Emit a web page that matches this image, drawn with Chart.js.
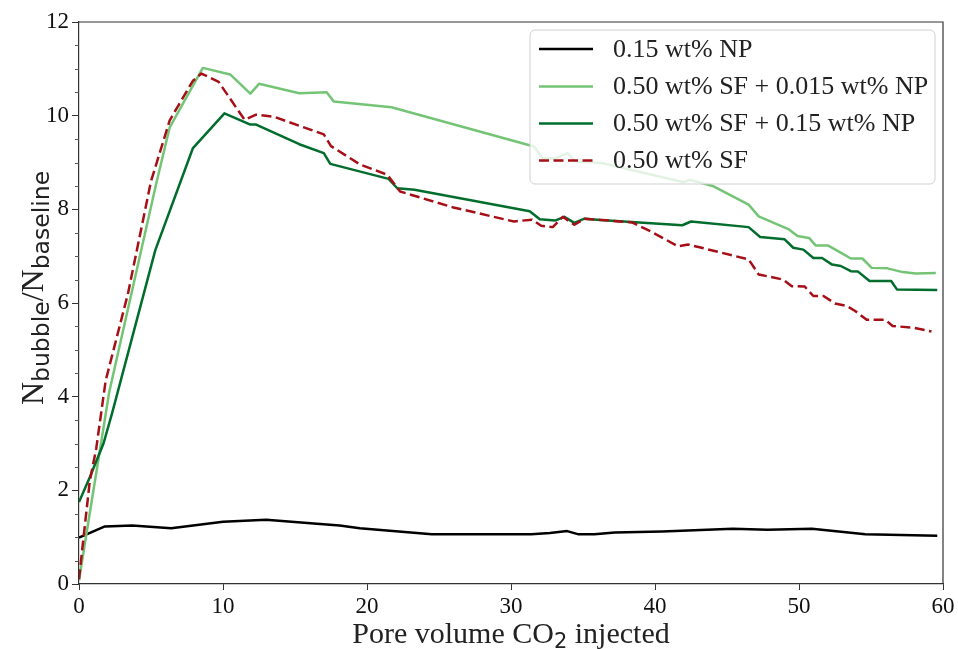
<!DOCTYPE html>
<html>
<head>
<meta charset="utf-8">
<script src="https://cdn.jsdelivr.net/npm/chart.js@4.4.1/dist/chart.umd.min.js"></script>
<style>
  body { margin: 0; background: #fff; }
  canvas { display: block; }
</style>
</head>
<body>
<canvas id="chart" width="958" height="649"></canvas>
<script>
// series labels
const seriesNames = [
  "0.15 wt% NP",
  "0.50 wt% SF + 0.015 wt% NP",
  "0.50 wt% SF + 0.15 wt% NP",
  "0.50 wt% SF"
];

// 0.15 wt% NP
const npX = [0, 1.8, 3.7, 6.4, 10, 13, 16.3, 18.1, 19.5, 24.5, 31.4, 32.7, 33.9, 34.7, 35.8, 37.2, 40.5, 45.4, 47.8, 50.9, 54.6, 59.6];
const npY = [0.99, 1.23, 1.25, 1.19, 1.33, 1.37, 1.29, 1.25, 1.19, 1.06, 1.06, 1.09, 1.13, 1.06, 1.06, 1.10, 1.12, 1.18, 1.16, 1.18, 1.06, 1.03];

// 0.50 wt% SF + 0.015 wt% NP
const sfLowX = [0, 2.1, 5.4, 6.3, 8.6, 10.5, 11.9, 12.5, 15.3, 17.2, 17.7, 21.7, 31.6, 32.2, 33.1, 33.9, 34.5, 36.3, 42.0, 42.4, 44.0, 46.5, 47.2, 49.3, 49.9, 50.7, 51.15, 52.0, 52.8, 53.6, 54.4, 55.05, 56.15, 57.2, 58.1, 59.5];
const sfLowY = [0.08, 4.1, 8.6, 9.75, 11.02, 10.88, 10.47, 10.68, 10.48, 10.5, 10.3, 10.18, 9.34, 9.09, 9.09, 9.2, 9.02, 8.99, 8.58, 8.63, 8.5, 8.1, 7.85, 7.57, 7.43, 7.39, 7.23, 7.23, 7.09, 6.95, 6.95, 6.75, 6.74, 6.66, 6.63, 6.64];

// 0.50 wt% SF + 0.15 wt% NP
const sfHighX = [0, 0.75, 1.7, 2.3, 5.3, 7.9, 10.1, 11.9, 12.3, 15.3, 17.0, 17.45, 21.5, 22.1, 23.3, 31.3, 32.0, 33.06, 33.7, 34.4, 35.1, 36.2, 41.9, 42.5, 46.5, 47.3, 49.0, 49.6, 50.3, 51.0, 51.6, 52.3, 52.9, 53.6, 54.1, 54.9, 56.4, 56.8, 59.6];
const sfHighY = [1.75, 2.28, 3.0, 3.65, 7.13, 9.3, 10.05, 9.81, 9.81, 9.39, 9.2, 8.97, 8.65, 8.45, 8.42, 7.96, 7.79, 7.76, 7.84, 7.71, 7.80, 7.77, 7.66, 7.74, 7.62, 7.41, 7.36, 7.18, 7.14, 6.96, 6.96, 6.82, 6.79, 6.68, 6.67, 6.47, 6.47, 6.29, 6.28];

// 0.50 wt% SF
const sfX = [0, 0.3, 0.75, 1.2, 1.85, 3.4, 5.0, 6.3, 7.9, 8.5, 9.7, 11.5, 12.3, 13.5, 17.0, 17.5, 19.5, 21.4, 22.3, 26.0, 30.2, 31.45, 32.1, 32.9, 33.6, 34.4, 35.1, 38.4, 39.7, 41.6, 42.3, 46.5, 47.2, 48.9, 49.5, 50.4, 51.0, 51.7, 52.5, 53.3, 53.9, 54.7, 56.0, 56.5, 58.0, 59.2];
const sfY = [0.1, 0.95, 2.2, 2.9, 4.34, 6.2, 8.6, 9.9, 10.74, 10.9, 10.72, 9.91, 10.02, 9.98, 9.6, 9.35, 8.96, 8.74, 8.38, 8.04, 7.74, 7.78, 7.65, 7.62, 7.84, 7.67, 7.80, 7.72, 7.53, 7.21, 7.25, 6.93, 6.61, 6.5, 6.36, 6.35, 6.15, 6.15, 5.99, 5.94, 5.83, 5.64, 5.64, 5.51, 5.47, 5.39];

// axis ticks
const xTicks = [0, 10, 20, 30, 40, 50, 60];
const yTicks = [0, 2, 4, 6, 8, 10, 12];

const SERIF = "'Liberation Serif', 'Times New Roman', serif";
const SANS = "'DejaVu Sans', sans-serif";

function pts(xs, ys) {
  return xs.map((x, i) => ({ x: x, y: ys[i] }));
}

// top/right spines + y minor ticks
const framePlugin = {
  id: "frame",
  afterDraw(chart) {
    const ctx = chart.ctx;
    const a = chart.chartArea;
    const ys = chart.scales.y;
    ctx.save();
    ctx.strokeStyle = "#333";
    ctx.lineWidth = 1.2;
    ctx.beginPath();
    ctx.moveTo(a.left, a.top);
    ctx.lineTo(a.right, a.top);
    ctx.lineTo(a.right, a.bottom);
    ctx.stroke();
    // minor ticks every 0.5
    ctx.lineWidth = 1;
    ctx.strokeStyle = "#555";
    for (let v = 0; v <= 12; v += 0.5) {
      if (v % 2 === 0) continue;
      const py = Math.round(ys.getPixelForValue(v)) + 0.5;
      ctx.beginPath();
      ctx.moveTo(a.left - 4, py);
      ctx.lineTo(a.left, py);
      ctx.stroke();
    }
    ctx.restore();
  }
};

// legend box drawn inside the plot
const legendPlugin = {
  id: "boxLegend",
  afterDraw(chart) {
    const ctx = chart.ctx;
    const bx = 530, by = 30, bw = 405, bh = 154, r = 5;
    ctx.save();
    ctx.beginPath();
    ctx.roundRect(bx, by, bw, bh, r);
    ctx.fillStyle = "rgba(255,255,255,0.8)";
    ctx.fill();
    ctx.strokeStyle = "#d0d0d0";
    ctx.lineWidth = 1;
    ctx.stroke();
    const rows = [49, 86.5, 123.5, 160.5];
    chart.data.datasets.forEach((ds, i) => {
      const y = rows[i];
      ctx.beginPath();
      ctx.setLineDash(ds.borderDash || []);
      ctx.strokeStyle = ds.borderColor;
      ctx.lineWidth = ds.borderWidth;
      ctx.moveTo(539, y);
      ctx.lineTo(593, y);
      ctx.stroke();
      ctx.setLineDash([]);
      ctx.fillStyle = "#222";
      ctx.font = "26px " + SERIF;
      ctx.textBaseline = "middle";
      ctx.textAlign = "left";
      ctx.fillText(ds.label, 613, y + 1);
    });
    ctx.restore();
  }
};

// axis titles with subscripts
function drawParts(ctx, parts, cx, cy) {
  let total = 0;
  parts.forEach(p => { ctx.font = p.font; p.w = ctx.measureText(p.text).width; total += p.w; });
  let x = cx - total / 2;
  parts.forEach(p => {
    ctx.font = p.font;
    ctx.fillText(p.text, x, cy + (p.dy || 0));
    x += p.w;
  });
}

const titlePlugin = {
  id: "axisTitles",
  afterDraw(chart) {
    const ctx = chart.ctx;
    const a = chart.chartArea;
    ctx.save();
    ctx.fillStyle = "#222";
    ctx.textBaseline = "alphabetic";
    ctx.textAlign = "left";
    drawParts(ctx, [
      { text: "Pore volume CO", font: "30px " + SERIF },
      { text: "2", font: "21px " + SANS, dy: 5 },
      { text: " injected", font: "30px " + SERIF }
    ], (a.left + a.right) / 2, 643);

    ctx.translate(43, 288);
    ctx.rotate(-Math.PI / 2);
    drawParts(ctx, [
      { text: "N", font: "32px " + SERIF },
      { text: "bubble", font: "23.5px " + SANS, dy: 6 },
      { text: "/N", font: "32px " + SERIF },
      { text: "baseline", font: "23.5px " + SANS, dy: 6 }
    ], 0, 0);
    ctx.restore();
  }
};

const ctx = document.getElementById("chart").getContext("2d");
new Chart(ctx, {
  type: "line",
  data: {
    datasets: [
      { label: seriesNames[0], data: pts(npX, npY), borderColor: "#000000", borderWidth: 2.5, order: 4 },
      { label: seriesNames[1], data: pts(sfLowX, sfLowY), borderColor: "#74c476", borderWidth: 2.5, order: 3 },
      { label: seriesNames[2], data: pts(sfHighX, sfHighY), borderColor: "#006d2c", borderWidth: 2.5, order: 2 },
      { label: seriesNames[3], data: pts(sfX, sfY), borderColor: "#a50f15", borderWidth: 2.5, borderDash: [10, 4.5], order: 1 }
    ]
  },
  options: {
    responsive: false,
    animation: false,
    devicePixelRatio: 1,
    layout: { padding: { top: 22, right: 15, left: 0, bottom: 0 } },
    elements: {
      point: { radius: 0 },
      line: { tension: 0, fill: false, borderJoinStyle: "round", borderCapStyle: "butt" }
    },
    plugins: {
      legend: { display: false },
      tooltip: { enabled: false }
    },
    scales: {
      x: {
        type: "linear",
        min: 0,
        max: 60,
        afterFit: s => { s.height = 65; },
        afterBuildTicks: s => { s.ticks = xTicks.map(v => ({ value: v })); },
        grid: { drawOnChartArea: false, tickLength: 6, tickColor: "#333" },
        border: { color: "#333", width: 1.2 },
        ticks: { font: { family: SERIF, size: 23 }, color: "#111", padding: 3, maxRotation: 0 }
      },
      y: {
        type: "linear",
        min: 0,
        max: 12,
        afterFit: s => { s.width = 79; },
        afterBuildTicks: s => { s.ticks = yTicks.map(v => ({ value: v })); },
        grid: { drawOnChartArea: false, tickLength: 7, tickColor: "#333" },
        border: { color: "#333", width: 1.2 },
        ticks: { font: { family: SERIF, size: 23 }, color: "#111", padding: 3 }
      }
    }
  },
  plugins: [framePlugin, legendPlugin, titlePlugin]
});
</script>
</body>
</html>
